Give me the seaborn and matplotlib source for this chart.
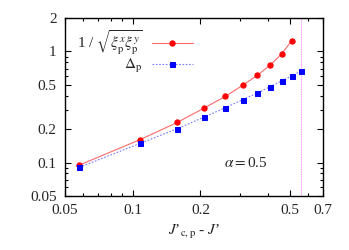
import numpy as np
import pandas as pd
import matplotlib
matplotlib.use("Agg")
import matplotlib.pyplot as plt
import seaborn as sns
from matplotlib.ticker import FixedLocator, NullFormatter, LogLocator

# Data
x_red = [0.058, 0.108, 0.158, 0.208, 0.258, 0.308, 0.358, 0.408, 0.458, 0.508]
y_red = [0.095, 0.161, 0.230, 0.310, 0.394, 0.496, 0.610, 0.755, 0.948, 1.25]
x_blue = [0.058, 0.108, 0.158, 0.208, 0.258, 0.308, 0.358, 0.408, 0.458, 0.508, 0.558]
y_blue = [0.0906, 0.149, 0.202, 0.257, 0.312, 0.368, 0.423, 0.482, 0.542, 0.601, 0.667]
x_crit = 0.558
x_ticks = [0.05, 0.1, 0.2, 0.5, 0.7]
x_ticklabels = ["0.05", "0.1", "0.2", "0.5", "0.7"]
y_ticks = [0.05, 0.1, 0.2, 0.5, 1, 2]
y_ticklabels = ["0.05", "0.1", "0.2", "0.5", "1", "2"]
label_red = r"1 / $\sqrt{\xi^x_{\rm p}\xi^y_{\rm p}}$"
label_blue = r"$\Delta_{\rm p}$"
annot = r"$\alpha = $0.5"

sns.set_style("ticks")
plt.rcParams["font.family"] = ["Liberation Serif", "DejaVu Serif"]
plt.rcParams["mathtext.fontset"] = "stix"
plt.rcParams["xtick.direction"] = "in"
plt.rcParams["ytick.direction"] = "in"

fig = plt.figure(figsize=(3.49, 2.5), dpi=100)
ax = fig.add_axes([0.186, 0.216, 0.7395, 0.712])

df_r = pd.DataFrame({"x": x_red, "y": y_red})
df_b = pd.DataFrame({"x": x_blue, "y": y_blue})

sns.lineplot(data=df_r, x="x", y="y", ax=ax, color="#ff6a6a", lw=0.8,
             marker="o", markersize=3.8, markerfacecolor="red", markeredgecolor="red",
             label=label_red)
sns.lineplot(data=df_b, x="x", y="y", ax=ax, color="#7a7aff", lw=0.8, linestyle=(0, (1.5, 1.5)),
             marker="s", markersize=3.6, markerfacecolor="blue", markeredgecolor="blue",
             label=label_blue)
ax.axvline(x_crit, color="#ff66ff", lw=0.6, linestyle=(0, (1, 1)), zorder=0)

ax.set_xscale("log")
ax.set_yscale("log")
ax.set_xlim(0.05, 0.7)
ax.set_ylim(0.05, 2)
ax.xaxis.set_major_locator(FixedLocator(x_ticks))
ax.set_xticklabels(x_ticklabels)
ax.yaxis.set_major_locator(FixedLocator(y_ticks))
ax.set_yticklabels(y_ticklabels)
ax.xaxis.set_minor_locator(LogLocator(base=10, subs=np.arange(2, 10)))
ax.yaxis.set_minor_locator(LogLocator(base=10, subs=np.arange(2, 10)))
ax.xaxis.set_minor_formatter(NullFormatter())
ax.yaxis.set_minor_formatter(NullFormatter())
ax.tick_params(which="both", top=True, right=True, labelsize=11, width=0.8, color="black")
ax.tick_params(which="major", length=4, pad=6)
ax.tick_params(which="minor", length=2)
for s in ax.spines.values():
    s.set_linewidth(1.0)
    s.set_color("black")

ax.set_xlabel("$J$’$_{\\rm c,p}$ - $J$’", fontsize=11, labelpad=4)
ax.set_ylabel("")
ax.text(0.70, 0.185, annot, transform=ax.transAxes, fontsize=11, ha="center", va="center")

leg = ax.legend(loc="upper right", bbox_to_anchor=(0.496, 0.94), frameon=False,
                markerfirst=False, fontsize=11, handlelength=2.7, handletextpad=0.6,
                labelspacing=0.0, borderaxespad=0, borderpad=0)

fig.savefig("out.png", dpi=100)
